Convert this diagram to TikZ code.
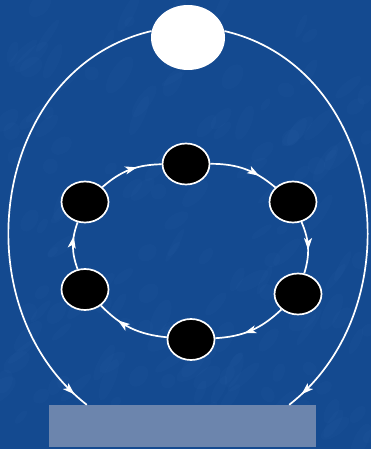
\documentclass[tikz,border=0pt]{standalone}
\usetikzlibrary{shapes.geometric,arrows.meta,decorations.markings}
\definecolor{bgblue}{RGB}{20,74,144}
\definecolor{bglight}{RGB}{60,115,185}
\definecolor{boxblue}{RGB}{108,133,173}
\begin{document}
\begin{tikzpicture}[x=1pt,y=1pt,
  topnode/.style={ellipse,fill=white,draw=none,minimum width=74pt,minimum height=65pt,inner sep=0pt},
  cyc/.style={ellipse,fill=black,draw=white,line width=1.7pt,minimum width=47pt,minimum height=41pt,inner sep=0pt},
  basebox/.style={rectangle,fill=boxblue,draw=none,minimum width=267pt,minimum height=42pt,inner sep=0pt},
  flow/.style={draw=white,line width=1.7pt,postaction={decorate},
    decoration={markings,mark=at position #1 with {\arrow{Stealth[length=12pt,width=8pt,inset=3pt,fill=white]}}}}
]
\useasboundingbox (0,0) rectangle (371,449);
\begin{scope}
\clip (0,0) rectangle (371,449);
\fill[bgblue] (0,0) rectangle (371,449);
\pgfmathsetseed{7}
\foreach \i in {1,...,160}{
  \pgfmathsetmacro{\px}{rnd*371}
  \pgfmathsetmacro{\py}{rnd*449}
  \pgfmathsetmacro{\rw}{6+rnd*16}
  \pgfmathsetmacro{\rh}{3+rnd*6}
  \pgfmathsetmacro{\ang}{30+rnd*40}
  \fill[bglight,opacity=0.07,rotate around={\ang:(\px,\py)}] (\px,\py) ellipse[x radius=\rw,y radius=\rh];
}
\end{scope}

\node[topnode] (top) at (188,411.5) {};
\node[basebox] (base) at (182.5,23) {};

\node[cyc] (n1) at (186,285) {};
\node[cyc] (n2) at (293,247) {};
\node[cyc] (n3) at (298,155) {};
\node[cyc] (n4) at (191,109.5) {};
\node[cyc] (n5) at (85,159.5) {};
\node[cyc] (n6) at (85,247) {};

\draw[flow=0.965] (top.170) to[out=193,in=142,looseness=1.1] ([xshift=38pt]base.north west);
\draw[flow=0.965] (top.10) to[out=-13,in=38,looseness=1.1] ([xshift=-27pt]base.north east);

\draw[flow=0.72] (n1) to[bend left=20] (n2);
\draw[flow=0.55] (n2) to[bend left=20] (n3);
\draw[flow=0.6] (n3) to[bend left=20] (n4);
\draw[flow=0.7] (n4) to[bend left=20] (n5);
\draw[flow=0.7] (n5) to[bend left=20] (n6);
\draw[flow=0.62] (n6) to[bend left=20] (n1);
\end{tikzpicture}
\end{document}
